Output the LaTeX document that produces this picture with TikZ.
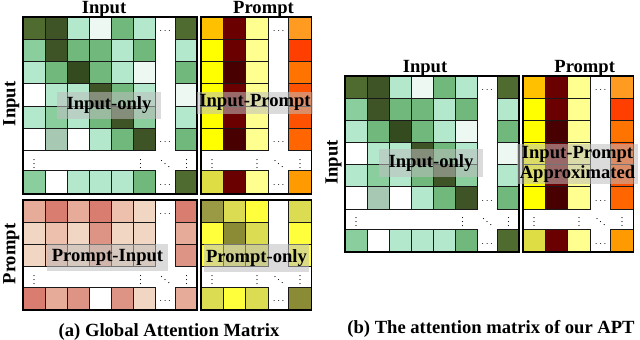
\documentclass[tikz,border=0pt]{standalone}
\usepackage{fontspec}
\setmainfont{Liberation Serif}
\usepackage{tikz}
\usetikzlibrary{calc}

% greens (input-only)
\definecolor{gOl}{HTML}{4F6B2F}
\definecolor{gDk}{HTML}{3E5426}
\definecolor{gDx}{HTML}{344A1F}
\definecolor{gMd}{HTML}{70B87C}
\definecolor{gMl}{HTML}{8ACE9E}
\definecolor{gLt}{HTML}{B3E8CD}
\definecolor{gPl}{HTML}{ECF8F1}
\definecolor{gGy}{HTML}{A7C9B3}
% yellows and reds (input-prompt)
\definecolor{yOr}{HTML}{FFC000}
\definecolor{yYl}{HTML}{FFFF00}
\definecolor{yMr}{HTML}{6B0000}
\definecolor{yMd}{HTML}{480000}
\definecolor{yPl}{HTML}{FFFF90}
\definecolor{yOl}{HTML}{DEDE44}
\definecolor{rO1}{HTML}{FF9B21}
\definecolor{rRd}{HTML}{FF3F00}
\definecolor{rO2}{HTML}{FF7400}
\definecolor{rO3}{HTML}{FF5200}
\definecolor{rO4}{HTML}{FF9A00}
\definecolor{rO5}{HTML}{FF6500}
% salmons (prompt-input)
\definecolor{sDk}{HTML}{D87D6F}
\definecolor{sMd}{HTML}{DE9484}
\definecolor{sMl}{HTML}{E6AB99}
\definecolor{sLt}{HTML}{ECC0AD}
\definecolor{sPl}{HTML}{F1D6C3}
% olives (prompt-only)
\definecolor{oDk}{HTML}{8B8B36}
\definecolor{oMd}{HTML}{9A9A44}
\definecolor{oLt}{HTML}{DCDC52}
\definecolor{oYl}{HTML}{FFFF3C}

\tikzset{
	cellbox/.style={draw=black!90, line width=1pt},
	blockframe/.style={draw=black, line width=1.9pt},
	axislabel/.style={font=\fontsize{18.6}{20}\selectfont\bfseries, inner sep=0pt},
	regionlabel/.style={axislabel, fill=gray!50, fill opacity=0.55, text opacity=1, align=center},
	dotmark/.style={font=\fontsize{10}{10}\selectfont, inner sep=0pt},
}

% #1,#2 top left corner, #3/#4 columns/rows before the gap, #5 cell width, #6 colour rows
\newcommand{\attnblock}[6]{%
	\foreach \crow [count=\j] in {#6} {
		\foreach \ccol [count=\i] in \crow {
			\pgfmathsetmacro\cx{#1+(\i-1)*#5+(\i>#3)*20.4}
			\pgfmathsetmacro\cy{#2+(\j-1)*22.2+(\j>#4)*20.4}
			\pgfmathsetmacro\ch{(\j>#4)?23:22.2}
			\path[cellbox, fill=\ccol] (\cx,\cy) rectangle ++(#5,\ch);
		}
	}
	\pgfmathsetmacro\bw{(#3+1)*#5+20.4}
	\pgfmathsetmacro\bh{#4*22.2+20.4+23}
	\draw[blockframe] (#1,#2) rectangle ++(\bw,\bh);
}

\begin{document}
\begin{tikzpicture}[x=1pt, y=-1pt]
	\fill[white] (0,0) rectangle (640,340);
	\useasboundingbox (0,0) rectangle (640,340);

	% input rows, for (a) and again for (b)
	\foreach \sx/\sy in {0/0, 322/58.5} {
		\begin{scope}[shift={(\sx,\sy)}]
			\attnblock{23}{17.3}{6}{6}{22}{{gOl,gDk,gLt,gPl,gMd,gLt,gOl},
				{gMl,gDk,gMd,gMd,gLt,gMd,gLt},
				{gLt,gMd,gDx,gMd,gLt,gPl,gMd},
				{white,gLt,gLt,gDk,gMd,gLt,gPl},
				{gLt,gMl,gLt,gMd,gDk,gMl,gLt},
				{white,gGy,white,gLt,gMd,gDk,gMd},
				{gMl,white,gLt,gLt,gLt,gMd,gOl}}
			\attnblock{200.7}{17.3}{3}{6}{22.6}{{yOr,yMr,yPl,rO1},
				{yYl,yMr,yPl,rRd},
				{yYl,yMd,yPl,rO2},
				{yYl,yMr,yPl,rO3},
				{yYl,yMr,yPl,rO3},
				{yYl,yMd,yPl,rO5},
				{yOl,yMr,yPl,rO4}}

			\node[dotmark] at (165.2,31.5) {$\cdots$};
			\node[dotmark] at (165.2,142.5) {$\cdots$};
			\node[dotmark] at (165.2,185.3) {$\cdots$};
			\node[dotmark] at (34,160.7) {$\vdots$};
			\node[dotmark] at (140.5,160.7) {$\vdots$};
			\node[dotmark] at (186.5,160.7) {$\vdots$};
			\node[dotmark] at (165.2,160.7) {$\ddots$};

			\node[dotmark] at (278.7,31.5) {$\cdots$};
			\node[dotmark] at (278.7,142.5) {$\cdots$};
			\node[dotmark] at (278.7,185.3) {$\cdots$};
			\node[dotmark] at (212,160.7) {$\vdots$};
			\node[dotmark] at (257.2,160.7) {$\vdots$};
			\node[dotmark] at (300.2,160.7) {$\vdots$};
			\node[dotmark] at (278.7,160.7) {$\ddots$};
		\end{scope}
	}

	% prompt rows, (a) only
	\attnblock{23}{200}{6}{3}{22}{{sMl,sDk,sMl,sDk,sLt,sPl,sDk},
		{sPl,sLt,sPl,sMd,sPl,sPl,sMl},
		{sPl,sLt,sPl,sMl,sPl,sPl,sMd},
		{sDk,sMl,sMd,white,sMd,sPl,sMl}}
	\attnblock{200.7}{200}{3}{3}{22.6}{{oMd,oLt,oYl,oLt},
		{oYl,oDk,oLt,oYl},
		{oYl,oLt,oLt,oYl},
		{oLt,oYl,oLt,oDk}}

	\node[dotmark] at (165.2,214) {$\cdots$};
	\node[dotmark] at (165.2,301.5) {$\cdots$};
	\node[dotmark] at (34,276.8) {$\vdots$};
	\node[dotmark] at (140.5,276.8) {$\vdots$};
	\node[dotmark] at (186.5,276.8) {$\vdots$};
	\node[dotmark] at (165.2,276.8) {$\ddots$};
	\node[dotmark] at (278.7,301.5) {$\cdots$};
	\node[dotmark] at (212,276.8) {$\vdots$};
	\node[dotmark] at (257.2,276.8) {$\vdots$};
	\node[dotmark] at (300.2,276.8) {$\vdots$};
	\node[dotmark] at (278.7,276.8) {$\ddots$};

	% axis labels
	\node[axislabel, anchor=base] (inTopA) at (104,13.8) {Input};
	\node[axislabel, anchor=base] (prTopA) at (263.5,13.8) {Prompt};
	\node[axislabel, anchor=base, rotate=90] (inSideA) at (15.5,104) {Input};
	\node[axislabel, anchor=base, rotate=90] (prSideA) at (15.5,254) {Prompt};
	\node[axislabel, anchor=base] (inTopB) at (425,72.5) {Input};
	\node[axislabel, anchor=base] (prTopB) at (584.7,72.5) {Prompt};
	\node[axislabel, anchor=base, rotate=90] (inSideB) at (337.5,162.5) {Input};

	% region labels
	\node[regionlabel, minimum width=104pt, minimum height=27pt] (ioA) at (109,105.5) {Input-only};
	\node[regionlabel, minimum width=116pt, minimum height=22pt] (ipA) at (255,102.5) {Input-Prompt};
	\node[regionlabel, minimum width=121pt, minimum height=27pt] (piA) at (107.5,257.5) {Prompt-Input};
	\node[regionlabel, minimum width=105pt, minimum height=28pt] (poA) at (256.5,258) {Prompt-only};
	\node[regionlabel, minimum width=104pt, minimum height=28pt] (ioB) at (431,163) {Input-only};
	\node[regionlabel, minimum width=121pt, minimum height=40pt] (ipB) at (577.5,164) {Input-Prompt\\Approximated};

	% captions
	\node[axislabel, anchor=base] (capA) at (169,336) {(a) Global Attention Matrix};
	\node[axislabel, anchor=base] (capB) at (491,333) {(b) The attention matrix of our APT};
\end{tikzpicture}
\end{document}
